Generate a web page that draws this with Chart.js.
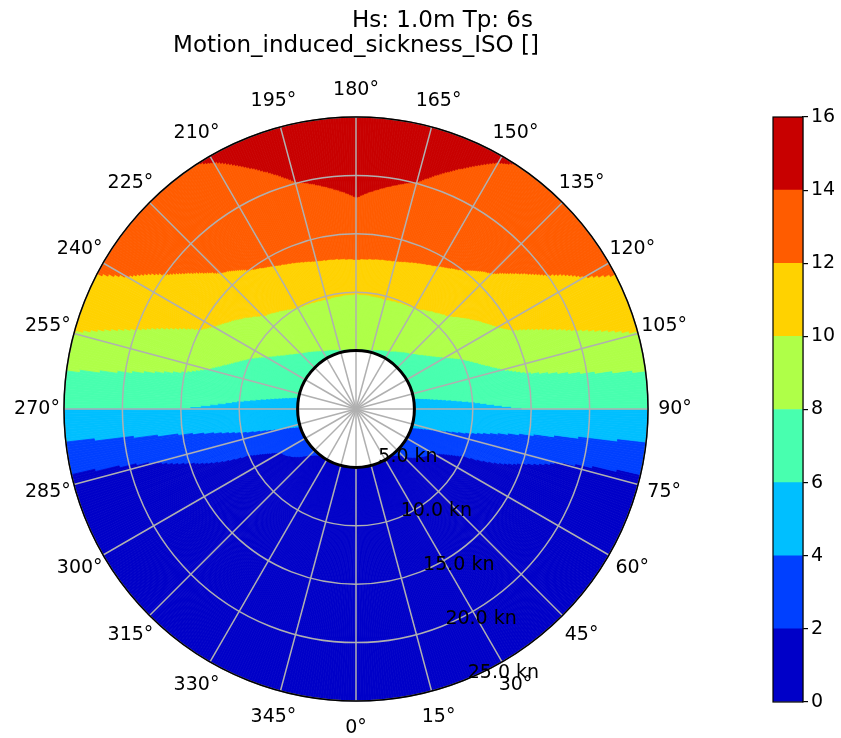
<!DOCTYPE html>
<html>
<head>
<meta charset="utf-8">
<title>Motion_induced_sickness_ISO</title>
<script src="https://cdn.jsdelivr.net/npm/chart.js@4.4.1/dist/chart.umd.min.js"></script>
<style>
	html, body { margin: 0; padding: 0; background: #fff; overflow: hidden; }
	.plot { position: relative; width: 841px; height: 738px; }
	.plot canvas { position: absolute; top: 0; }
	#polar_chart { left: 0; }
	#colour_bar { left: 700px; }
</style>
</head>
<body>
<div class="plot">
	<canvas id="polar_chart" width="841" height="738"></canvas>
	<canvas id="colour_bar" width="141" height="738"></canvas>
</div>
<script>
// wave heading (deg, 0 = following seas, 180 = head seas) and ship speed (kn)
const headings = [0, 15, 30, 45, 60, 75, 90, 105, 120, 135, 150, 165, 180, 195, 210, 225, 240, 255, 270, 285, 300, 315, 330, 345];
const speeds = [5, 10, 15, 20, 25];

// motion induced sickness (ISO) per heading, one array per speed
const sickness_5kn = [1.5, 1.6, 1.8, 2.2, 3.17, 4.27, 5.36, 6.26, 6.84, 7.24, 7.67, 7.91, 7.96, 7.91, 7.67, 7.24, 6.84, 6.26, 5.36, 4.27, 3.17, 2.2, 1.8, 1.6];
const sickness_10kn = [0.7, 0.8, 0.8, 0.7, 0.9, 3.58, 5.64, 7.2, 8.35, 9.47, 10.02, 10.13, 10.07, 10.13, 10.02, 9.47, 8.35, 7.2, 5.64, 3.58, 0.9, 0.7, 0.8, 0.8];
const sickness_15kn = [0.5, 0.5, 0.5, 0.5, 0.5, 2.4, 6.02, 8.5, 10.4, 11.6, 12.43, 13.15, 13.52, 13.15, 12.43, 11.6, 10.4, 8.5, 6.02, 2.4, 0.5, 0.5, 0.5, 0.5];
const sickness_20kn = [0.4, 0.4, 0.4, 0.4, 0.4, 1.7, 6.05, 9.3, 11.5, 13.0, 13.33, 13.98, 14.29, 13.98, 13.33, 13.0, 11.5, 9.3, 6.05, 1.7, 0.4, 0.4, 0.4, 0.4];
const sickness_25kn = [0.3, 0.3, 0.3, 0.3, 0.3, 1.3, 6.05, 9.97, 12.46, 13.6, 14.1, 14.8, 15.0, 14.8, 14.1, 13.6, 12.46, 9.97, 6.05, 1.3, 0.3, 0.3, 0.3, 0.3];

// contour levels and the jet colour of each band
const levels = [0, 2, 4, 6, 8, 10, 12, 14, 16];
const level_colors = ['#0000c8', '#0040ff', '#00bfff', '#48ffaf', '#afff48', '#ffd200', '#ff5c00', '#c80000'];

const title_lines = ['Hs: 1.0m Tp: 6s', 'Motion_induced_sickness_ISO []'];
const label_heading = 22.5;

const grid = [sickness_5kn, sickness_10kn, sickness_15kn, sickness_20kn, sickness_25kn];
const HEADING_STEP = 0.5;
const SPEED_STEP = 0.05;

Chart.defaults.font.family = '"DejaVu Sans"';
Chart.defaults.color = '#000';

// radial scale runs clockwise from the bottom, headings run anticlockwise
const heading_labels = headings.map((h, i) => `${headings[(headings.length - i) % headings.length]}°`);

function heading_index(h) {
	const step = 360 / headings.length;
	return ((360 - h) % 360) / step;
}

function heading_angle(scale, h) {
	return scale.getIndexAngle(heading_index(h)) - Math.PI / 2;
}

function field_at(h, u) {
	const n = headings.length;
	const step = 360 / n;
	const i0 = Math.floor(h / step) % n;
	const i1 = (i0 + 1) % n;
	const th = (h - headings[i0]) / step;
	let j = 0;
	while (j < speeds.length - 2 && u > speeds[j + 1]) j++;
	const tu = (u - speeds[j]) / (speeds[j + 1] - speeds[j]);
	const lo = grid[j][i0] * (1 - th) + grid[j][i1] * th;
	const hi = grid[j + 1][i0] * (1 - th) + grid[j + 1][i1] * th;
	return lo * (1 - tu) + hi * tu;
}

function band_of(v) {
	for (let k = 0; k < levels.length - 1; k++) {
		if (v >= levels[k] && v < levels[k + 1]) return k;
	}
	return -1;
}

function draw_sector(ctx, cx, cy, r0, r1, a0, a1, color) {
	ctx.beginPath();
	ctx.arc(cx, cy, r1, a0, a1);
	ctx.arc(cx, cy, r0, a1, a0, true);
	ctx.closePath();
	ctx.fillStyle = color;
	ctx.strokeStyle = color;
	ctx.fill();
	ctx.stroke();
}

// filled contours, painted before the scale so the grid sits on top
const contour_plugin = {
	id: 'contour_fill',
	beforeDraw(chart) {
		const scale = chart.scales.r;
		const ctx = chart.ctx;
		const cx = scale.xCenter;
		const cy = scale.yCenter;
		const u_min = speeds[0];
		const u_max = speeds[speeds.length - 1];
		const steps = Math.round((u_max - u_min) / SPEED_STEP);
		ctx.save();
		ctx.lineWidth = 0.8;
		for (let h = 0; h < 360; h += HEADING_STEP) {
			const a0 = heading_angle(scale, h);
			let a1 = heading_angle(scale, h + HEADING_STEP);
			if (a1 - a0 > Math.PI) a1 -= 2 * Math.PI;
			if (a0 - a1 > Math.PI) a1 += 2 * Math.PI;
			const start = Math.min(a0, a1);
			const end = Math.max(a0, a1);
			const hm = h + HEADING_STEP / 2;
			let run_start = u_min;
			let run_band = band_of(field_at(hm, u_min + SPEED_STEP / 2));
			for (let s = 1; s <= steps; s++) {
				const u = u_min + s * SPEED_STEP;
				const b = s < steps ? band_of(field_at(hm, u + SPEED_STEP / 2)) : -2;
				if (b !== run_band) {
					if (run_band >= 0) {
						draw_sector(ctx, cx, cy,
							scale.getDistanceFromCenterForValue(run_start),
							scale.getDistanceFromCenterForValue(u),
							start, end, level_colors[run_band]);
					}
					run_start = u;
					run_band = b;
				}
			}
		}
		ctx.restore();
	}
};

// spines, heading and speed labels, title
const frame_plugin = {
	id: 'polar_frame',
	afterDraw(chart) {
		const scale = chart.scales.r;
		const ctx = chart.ctx;
		const cx = scale.xCenter;
		const cy = scale.yCenter;
		ctx.save();
		ctx.strokeStyle = '#000';
		ctx.lineWidth = 1.5;
		ctx.beginPath();
		ctx.arc(cx, cy, scale.getDistanceFromCenterForValue(speeds[speeds.length - 1]), 0, 2 * Math.PI);
		ctx.stroke();
		ctx.lineWidth = 3;
		ctx.beginPath();
		ctx.arc(cx, cy, scale.getDistanceFromCenterForValue(speeds[0]), 0, 2 * Math.PI);
		ctx.stroke();

		ctx.fillStyle = '#000';
		ctx.font = '19px "DejaVu Sans"';
		ctx.textAlign = 'center';
		ctx.textBaseline = 'middle';
		chart.data.labels.forEach((label, i) => {
			const p = scale.getPointPosition(i, scale.drawingArea + 27);
			ctx.fillText(label, p.x, p.y);
		});

		ctx.textAlign = 'left';
		ctx.textBaseline = 'alphabetic';
		const idx = heading_index(label_heading);
		speeds.forEach(v => {
			const p = scale.getPointPosition(idx, scale.getDistanceFromCenterForValue(v));
			ctx.fillText(`${v.toFixed(1)} kn`, p.x, p.y - 1);
		});

		ctx.font = '23px "DejaVu Sans"';
		ctx.fillText(title_lines[0], 352, 27);
		ctx.textAlign = 'center';
		ctx.fillText(title_lines[1], cx, 52);
		ctx.restore();
	}
};

new Chart(document.getElementById('polar_chart'), {
	type: 'radar',
	data: {
		labels: heading_labels,
		datasets: []
	},
	options: {
		responsive: false,
		animation: false,
		layout: { padding: { left: 63, right: 192, top: 117, bottom: 36 } },
		plugins: {
			legend: { display: false },
			tooltip: { enabled: false }
		},
		scales: {
			r: {
				min: 0,
				max: speeds[speeds.length - 1],
				startAngle: 180,
				ticks: { display: false, stepSize: 5 },
				grid: { circular: true, color: '#b0b0b0', lineWidth: 1.5 },
				angleLines: { display: true, color: '#b0b0b0', lineWidth: 1.5 },
				pointLabels: { display: false }
			}
		}
	},
	plugins: [contour_plugin, frame_plugin]
});

const bar_frame = {
	id: 'bar_frame',
	afterDraw(chart) {
		const a = chart.chartArea;
		const ctx = chart.ctx;
		ctx.save();
		ctx.strokeStyle = '#000';
		ctx.lineWidth = 1.2;
		ctx.strokeRect(a.left, a.top, a.right - a.left, a.bottom - a.top);
		ctx.restore();
	}
};

new Chart(document.getElementById('colour_bar'), {
	type: 'bar',
	data: {
		labels: [''],
		datasets: level_colors.map((color, k) => ({
			data: [levels[k + 1] - levels[k]],
			backgroundColor: color,
			borderWidth: 0,
			barPercentage: 1,
			categoryPercentage: 1
		}))
	},
	options: {
		responsive: false,
		animation: false,
		layout: { padding: { left: 73, right: 0, top: 117, bottom: 36 } },
		plugins: {
			legend: { display: false },
			tooltip: { enabled: false }
		},
		scales: {
			x: { display: false, stacked: true },
			y: {
				stacked: true,
				position: 'right',
				min: levels[0],
				max: levels[levels.length - 1],
				afterFit(scale) { scale.width = 38; },
				ticks: { stepSize: 2, color: '#000', font: { size: 19 }, padding: 3 },
				grid: { drawOnChartArea: false, drawTicks: true, tickLength: 5, color: '#000', lineWidth: 1.2 },
				border: { display: true, color: '#000', width: 1.2 }
			}
		}
	},
	plugins: [bar_frame]
});
</script>
</body>
</html>
